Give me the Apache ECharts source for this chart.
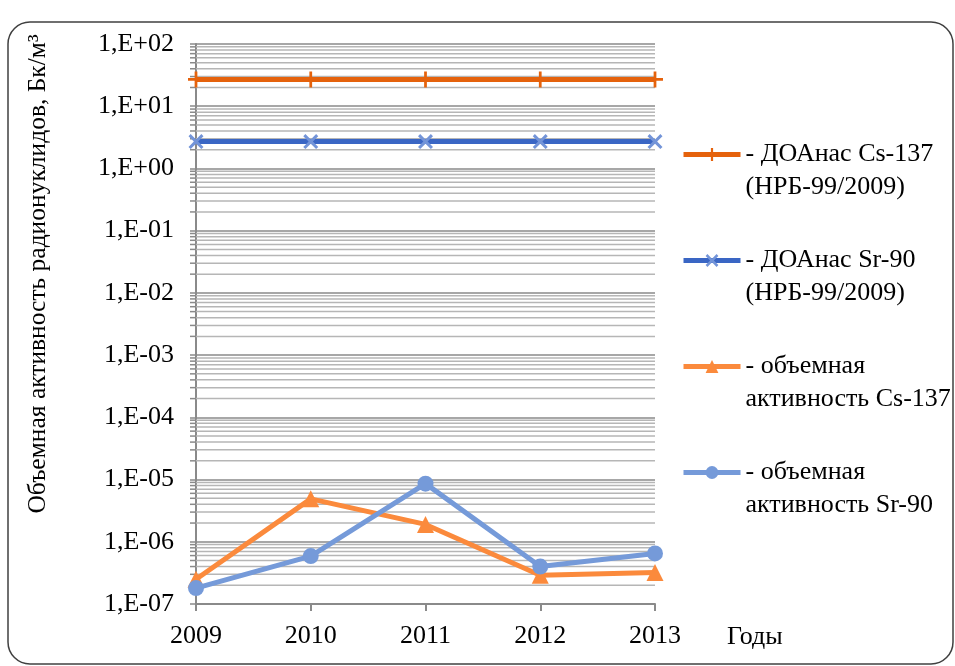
<!DOCTYPE html>
<html><head><meta charset="utf-8">
<script src="https://cdn.jsdelivr.net/npm/echarts@6/dist/echarts.min.js"></script>
<style>html,body{margin:0;padding:0;background:#fff}#c{width:955px;height:666px}</style>
</head><body><div id="c"></div>
<script>
var years = ['2009','2010','2011','2012','2013'];
var doaCs137 = [27, 27, 27, 27, 27];
var doaSr90 = [2.7, 2.7, 2.7, 2.7, 2.7];
var actCs137 = [2.5e-7, 4.9e-6, 1.9e-6, 2.9e-7, 3.2e-7];
var actSr90 = [1.8e-7, 5.9e-7, 8.6e-6, 4.0e-7, 6.5e-7];
var seriesNames = ['- ДОАнас Cs-137\n(НРБ-99/2009)', '- ДОАнас Sr-90\n(НРБ-99/2009)', '- объемная\nактивность Cs-137', '- объемная\nактивность Sr-90'];
var yMin = 1e-7, yMax = 1e2;
var axisTitle = 'Объемная активность радионуклидов, Бк/м³';
var xTitle = 'Годы';

var FONT = '"Liberation Serif", "Times New Roman", Times, "DejaVu Serif", serif';
var minorValues = [];
for (var e = -7; e < 2; e++) {
  for (var k = 2; k <= 9; k++) minorValues.push([0, k * Math.pow(10, e)]);
}
function fmtE(v) {
  var ex = Math.round(Math.log10(v));
  var s = ex < 0 ? '-' : '+';
  var a = Math.abs(ex);
  return '1,E' + s + (a < 10 ? '0' : '') + a;
}
var plusPath = 'path://M-1.2,-7 L1.2,-7 L1.2,-1.2 L7,-1.2 L7,1.2 L1.2,1.2 L1.2,7 L-1.2,7 L-1.2,1.2 L-7,1.2 L-7,-1.2 L-1.2,-1.2 Z';
var xPath = 'path://M2,0 L7,5 L12,0 L14,2 L9,7 L14,12 L12,14 L7,9 L2,14 L0,12 L5,7 L0,2 Z';

var chart = echarts.init(document.getElementById('c'));
chart.setOption({
  animation: false,
  backgroundColor: '#fff',
  grid: {left: 196, right: 300, top: 44, bottom: 62, containLabel: false},
  graphic: [
    {type: 'rect', shape: {x: 8, y: 22, width: 945, height: 642, r: 22}, style: {fill: 'none', stroke: '#404040', lineWidth: 1.5}, z: -1},
    {type: 'text', x: 38, y: 274, rotation: Math.PI / 2, style: {text: axisTitle, fontFamily: FONT, fontSize: 25.5, fill: '#000', align: 'center', verticalAlign: 'middle'}}
  ],
  legend: {
    orient: 'vertical', left: 676, top: 100, itemWidth: 57, itemHeight: 16, itemGap: 7,
    data: seriesNames,
    formatter: function (n) { return '\n' + n; },
    lineStyle: {width: 5},
    textStyle: {fontFamily: FONT, fontSize: 26, color: '#000', lineHeight: 33}
  },
  xAxis: {
    type: 'category', data: years, boundaryGap: false,
    name: xTitle, nameLocation: 'end', nameGap: 72,
    nameTextStyle: {fontFamily: FONT, fontSize: 26, color: '#000', verticalAlign: 'top', padding: [20, 0, 0, 0]},
    axisLine: {lineStyle: {color: '#8a8a8a', width: 2}},
    axisTick: {show: true, length: 7, lineStyle: {color: '#8a8a8a', width: 2}},
    axisLabel: {fontFamily: FONT, fontSize: 26, color: '#000', margin: 19},
    splitLine: {show: false}
  },
  yAxis: {
    type: 'log', logBase: 10, min: yMin, max: yMax, splitNumber: 9,
    axisLine: {show: true, lineStyle: {color: '#8a8a8a', width: 2}},
    axisTick: {show: true, length: 6, lineStyle: {color: '#8a8a8a', width: 1.5}},
    axisLabel: {fontFamily: FONT, fontSize: 26, color: '#000', margin: 22, formatter: fmtE},
    splitLine: {show: true, lineStyle: {color: '#8a8a8a', width: 1.5}}
  },
  series: [
    {name: '_grid', type: 'custom', data: minorValues, silent: true, z: 1, encode: {x: 0, y: 1},
     renderItem: function (params, api) {
       var y = api.coord([0, api.value(1)])[1];
       var cs = params.coordSys;
       return {type: 'group', children: [
         {type: 'line', shape: {x1: cs.x, y1: y, x2: cs.x + cs.width, y2: y}, style: {stroke: '#b6b6b6', lineWidth: 1.5}},
         {type: 'line', shape: {x1: cs.x - 6, y1: y, x2: cs.x, y2: y}, style: {stroke: '#8a8a8a', lineWidth: 1.5}}
       ]};
     }},
    {name: seriesNames[0], type: 'line', data: doaCs137, z: 3,
     lineStyle: {color: '#e5620c', width: 5}, itemStyle: {color: '#e5620c'},
     symbol: plusPath, symbolSize: 16, showSymbol: true},
    {name: seriesNames[1], type: 'line', data: doaSr90, z: 3,
     lineStyle: {color: '#3a66c4', width: 5}, itemStyle: {color: '#7394d8'},
     symbol: xPath, symbolSize: 15, showSymbol: true},
    {name: seriesNames[2], type: 'line', data: actCs137, z: 3,
     lineStyle: {color: '#fb8a3c', width: 5}, itemStyle: {color: '#fb8a3c'},
     symbol: 'triangle', symbolSize: 17, showSymbol: true},
    {name: seriesNames[3], type: 'line', data: actSr90, z: 4,
     lineStyle: {color: '#759ad9', width: 5}, itemStyle: {color: '#759ad9'},
     symbol: 'circle', symbolSize: 16, showSymbol: true}
  ]
});
</script></body></html>
